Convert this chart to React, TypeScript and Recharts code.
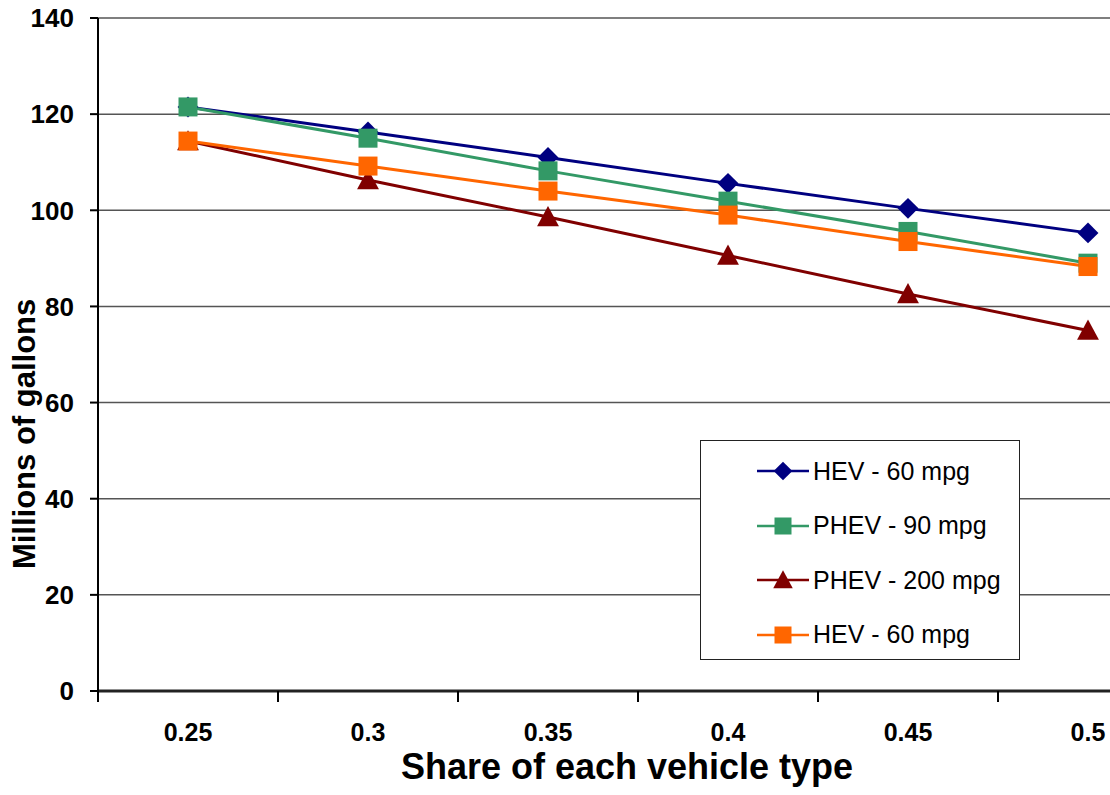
import { LineChart, Line, XAxis, YAxis, CartesianGrid, Legend, Label } from 'recharts';

// x categories (share of each vehicle type) and the category boundaries used for tick marks
const SHARES = [0.25, 0.3, 0.35, 0.4, 0.45, 0.5];
const CATEGORY_EDGES = [0.225, 0.275, 0.325, 0.375, 0.425, 0.475, 0.525];
const Y_TICKS = [0, 20, 40, 60, 80, 100, 120, 140];

// millions of gallons
const HEV_60 = [121.5, 116.3, 111.0, 105.6, 100.4, 95.3];
const PHEV_90 = [121.5, 115.0, 108.2, 101.9, 95.6, 89.0];
const PHEV_200 = [114.4, 106.3, 98.6, 90.6, 82.6, 75.0];
const HEV_60_B = [114.4, 109.2, 104.0, 99.0, 93.5, 88.3];

const SERIES = [
  { key: 'hev60', name: 'HEV - 60 mpg', color: '#000080', shape: 'diamond' },
  { key: 'phev90', name: 'PHEV - 90 mpg', color: '#339966', shape: 'square' },
  { key: 'phev200', name: 'PHEV - 200 mpg', color: '#800000', shape: 'triangle' },
  { key: 'hev60b', name: 'HEV - 60 mpg', color: '#FF6600', shape: 'square' },
];

const data = SHARES.map((share, i) => ({
  share,
  hev60: HEV_60[i],
  phev90: PHEV_90[i],
  phev200: PHEV_200[i],
  hev60b: HEV_60_B[i],
}));

const X_TICKS = [...CATEGORY_EDGES, ...SHARES].sort((a, b) => a - b);
const FONT = 'Arial, "Liberation Sans", sans-serif';

function Marker({ shape, color, cx, cy, size = 19 }: any) {
  if (cx == null || cy == null) return null;
  const h = size / 2;
  if (shape === 'diamond') {
    const d = h * 1.1;
    return <polygon points={`${cx},${cy - d} ${cx + d},${cy} ${cx},${cy + d} ${cx - d},${cy}`} fill={color} />;
  }
  if (shape === 'triangle') {
    const t = h * 1.15;
    return <polygon points={`${cx},${cy - t} ${cx + t},${cy + t * 0.85} ${cx - t},${cy + t * 0.85}`} fill={color} />;
  }
  return <rect x={cx - h} y={cy - h} width={size} height={size} fill={color} />;
}

function XTick({ x, y, payload }: any) {
  const v = payload.value;
  if (SHARES.includes(v)) {
    return (
      <text x={x} y={y} dy={50} textAnchor="middle" fontFamily={FONT} fontWeight="bold" fontSize={25} fill="#000">
        {String(v)}
      </text>
    );
  }
  return <line x1={x} y1={y} x2={x} y2={y + 11} stroke="#000" strokeWidth={2} />;
}

const renderLegend = () => (
  <div
    style={{
      border: '1.5px solid #222',
      background: '#fff',
      width: 320,
      height: 220,
      boxSizing: 'border-box',
      padding: '3px 0 0 56px',
      fontFamily: FONT,
    }}
  >
    {SERIES.map((s) => (
      <div key={s.key} style={{ display: 'flex', alignItems: 'center', height: 54.5 }}>
        <svg width={52} height={24}>
          <line x1={0} y1={12} x2={52} y2={12} stroke={s.color} strokeWidth={2.5} />
          <Marker shape={s.shape} color={s.color} cx={26} cy={12} size={17} />
        </svg>
        <span style={{ fontSize: 25, marginLeft: 4, color: '#000' }}>{s.name}</span>
      </div>
    ))}
  </div>
);

export default function App() {
  return (
    <div style={{ position: 'fixed', top: 0, left: 0, width: 1110, height: 795, overflow: 'hidden', background: '#fff' }}>
      <LineChart width={1200} height={795} data={data} margin={{ top: 18, right: 22, left: 0, bottom: 0 }}>
        <CartesianGrid vertical={false} stroke="#555" strokeWidth={1.5} />
        <XAxis
          dataKey="share"
          type="number"
          domain={[0.225, 0.525]}
          ticks={X_TICKS}
          interval={0}
          height={104}
          tickSize={0}
          tickMargin={0}
          tickLine={false}
          tick={<XTick />}
          axisLine={{ stroke: '#222', strokeWidth: 3 }}
        >
          <Label
            content={({ viewBox }: any) => (
              <text
                x={viewBox.x + viewBox.width / 2 - 11}
                y={viewBox.y + 88}
                textAnchor="middle"
                fontFamily={FONT}
                fontWeight="bold"
                fontSize={36}
                fill="#000"
              >
                Share of each vehicle type
              </text>
            )}
          />
        </XAxis>
        <YAxis
          domain={[0, 140]}
          ticks={Y_TICKS}
          interval={0}
          width={98}
          tickSize={8}
          tickMargin={16}
          tick={{ fontFamily: FONT, fontWeight: 'bold', fontSize: 26, fill: '#000' }}
          tickLine={{ stroke: '#000', strokeWidth: 2 }}
          axisLine={{ stroke: '#000', strokeWidth: 2 }}
        >
          <Label
            content={({ viewBox }: any) => {
              const cx = viewBox.x + 25;
              const cy = viewBox.y + viewBox.height * 0.618;
              return (
                <text
                  x={cx}
                  y={cy}
                  transform={`rotate(-90 ${cx} ${cy})`}
                  textAnchor="middle"
                  dominantBaseline="central"
                  fontFamily={FONT}
                  fontWeight="bold"
                  fontSize={31}
                  fill="#000"
                >
                  Millions of gallons
                </text>
              );
            }}
          />
        </YAxis>
        <Legend
          layout="vertical"
          align="center"
          verticalAlign="middle"
          content={renderLegend}
          wrapperStyle={{ left: 700, top: 440, width: 320, height: 220 }}
        />
        {SERIES.map((s) => (
          <Line
            key={s.key}
            dataKey={s.key}
            name={s.name}
            stroke={s.color}
            strokeWidth={3}
            isAnimationActive={false}
            dot={(p: any) => <Marker key={`${s.key}-${p.index}`} shape={s.shape} color={s.color} cx={p.cx} cy={p.cy} />}
            activeDot={false}
          />
        ))}
      </LineChart>
    </div>
  );
}
